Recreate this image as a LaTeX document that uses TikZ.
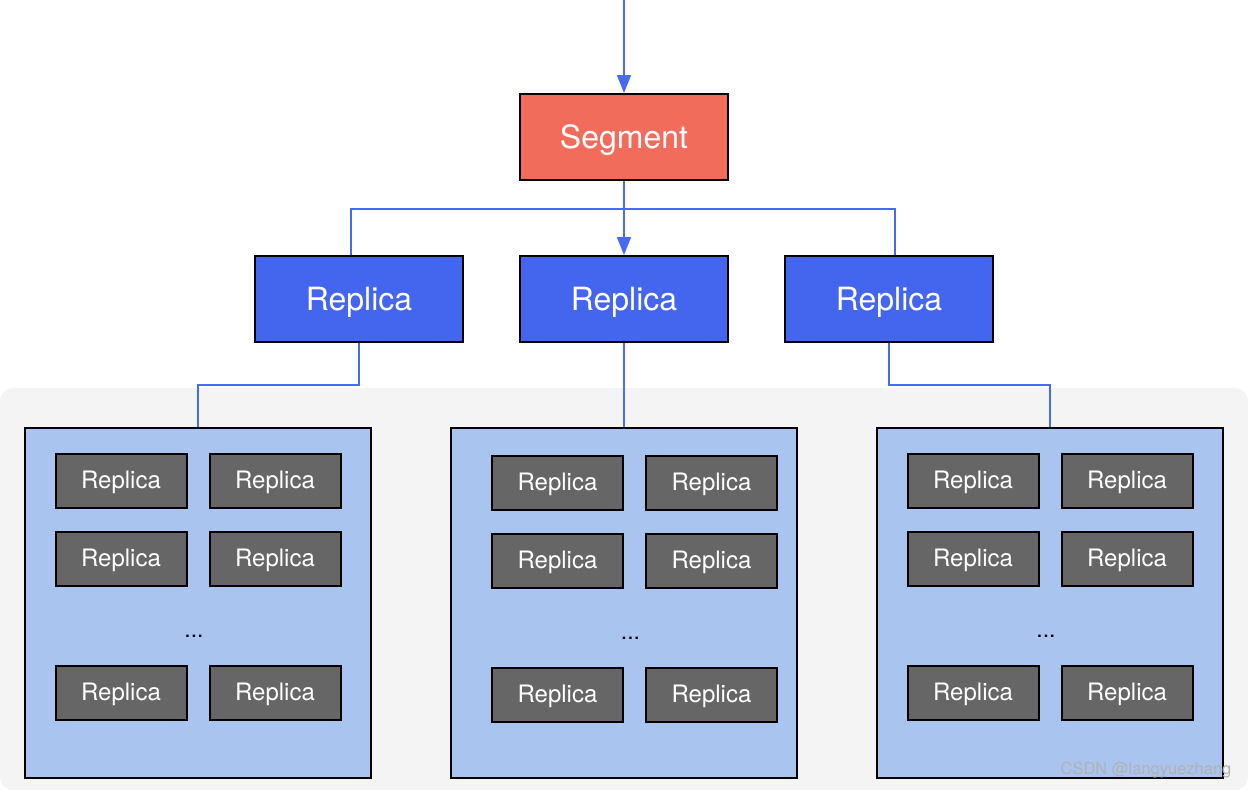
\documentclass[tikz,border=0pt]{standalone}
\usepackage{fontspec}
\setmainfont{TeX Gyre Heros}
\usetikzlibrary{arrows.meta}
\definecolor{segred}{RGB}{242,108,92}
\definecolor{repblue}{RGB}{68,102,238}
\definecolor{linkblue}{RGB}{72,106,240}
\definecolor{groupblue}{RGB}{170,196,240}
\definecolor{cellgray}{RGB}{102,102,102}
\definecolor{bggray}{RGB}{244,244,244}

\begin{document}
\begin{tikzpicture}[x=1pt,y=-1pt,
  box/.style={draw=black,line width=2pt,text=white,inner sep=0pt},
  bigtext/.style={font=\fontsize{32}{36}\selectfont,text height=23pt,text depth=0pt},
  segbox/.style={box,bigtext,fill=segred,minimum width=208pt,minimum height=86pt},
  repbox/.style={box,bigtext,fill=repblue,minimum width=208pt,minimum height=86pt},
  group/.style={draw=black,line width=2pt,fill=groupblue,minimum width=346pt,minimum height=350pt},
  cell/.style={box,fill=cellgray,minimum width=131pt,minimum height=54pt,
    font=\fontsize{24}{28}\selectfont,text height=17pt,text depth=2pt},
  link/.style={draw=linkblue,line width=1.6pt},
  tip/.style={-{Triangle[width=14pt,length=18pt]}}]
\useasboundingbox (0,0) rectangle (1248,790);
% Grey panel behind the groups
\fill[bggray,rounded corners=13pt] (0,388) rectangle (1248,790);
% Segment and its three replicas
\coordinate (in) at (624,0);
\node[segbox] (seg) at (624,137) {Segment};
\node[repbox] (r1) at (359,299) {Replica};
\node[repbox] (r2) at (624,299) {Replica};
\node[repbox] (r3) at (889,299) {Replica};
% The three groups of replicas
\node[group] (g1) at (198,603) {};
\node[group] (g2) at (624,603) {};
\node[group] (g3) at (1050,603) {};
\foreach \g/\a/\b/\t in {g1/121/275/481, g2/557.5/711.5/483, g3/973/1127/481} {
  \foreach \r/\dy in {1/0, 2/78, 3/212} {
    \node[cell] (\g-\r a) at (\a,\t+\dy) {Replica};
    \node[cell] (\g-\r b) at (\b,\t+\dy) {Replica};
  }
  \node[font=\fontsize{23}{27}\selectfont] (\g-dots) at ({(\a+\b)/2-4},\t+155) {...};
}
% Connectors
\draw[link,tip] (in) -- (seg);
\draw[link,tip] (seg) -- (r2);
\draw[link] ([xshift=-8pt]r1.north) -- ++(0,-46) -| ([xshift=6pt]r3.north);
\draw[link] (r1.south) -- ++(0,42) -| (g1.north);
\draw[link] (r2.south) -- (g2.north);
\draw[link] (r3.south) -- ++(0,42) -| (g3.north);
% Watermark
\node[text=gray!60,font=\fontsize{16.5}{18}\selectfont] (wm) at (1146,770) {CSDN @langyuezhang};
\end{tikzpicture}
\end{document}
